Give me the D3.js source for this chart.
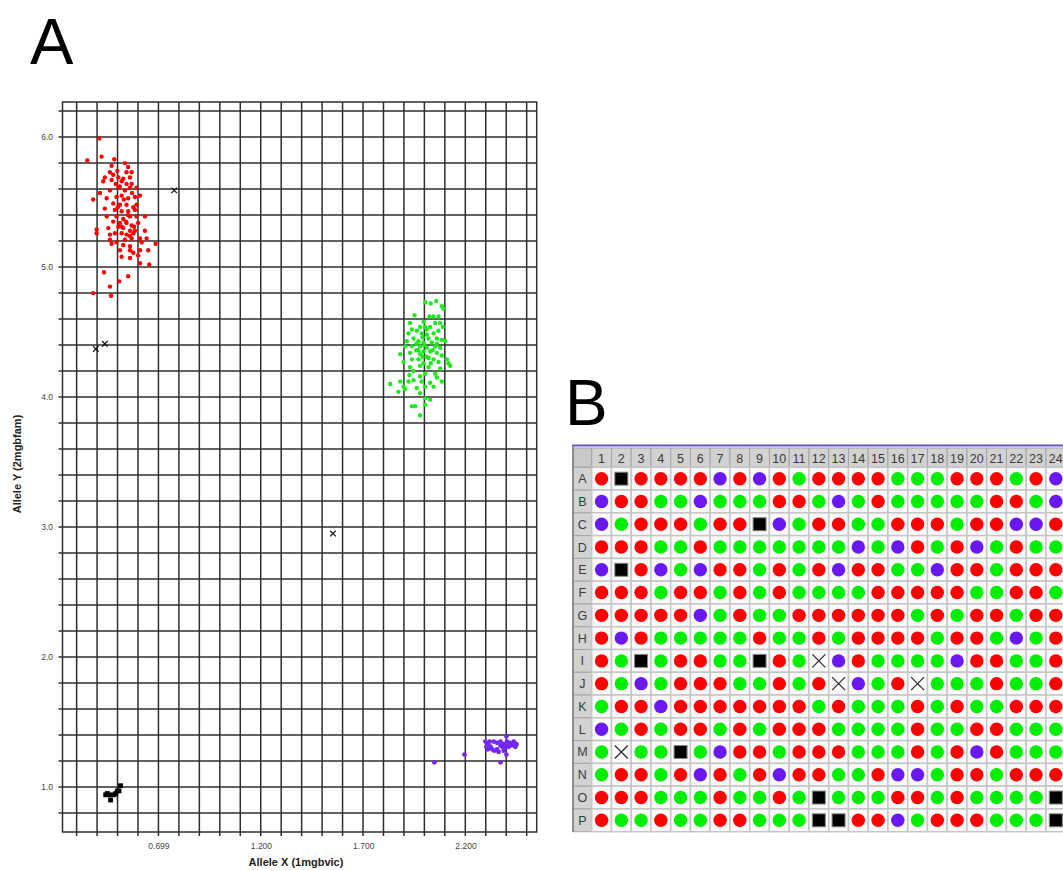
<!DOCTYPE html>
<html>
<head>
<meta charset="utf-8">
<script src="https://cdn.jsdelivr.net/npm/d3@7"></script>
<style>
body { margin: 0; background: #fff; }
svg { display: block; font-family: "Liberation Sans", Arial, sans-serif; }
</style>
</head>
<body>
<div id="chart"></div>
<script>
// Panel A: allele discrimination clusters, [allele X, allele Y]
const redPoints = [
    [0.410,5.99],[0.351,5.82],[0.421,5.85],[0.483,5.83],[0.535,5.80],
    [0.470,5.78],[0.551,5.77],[0.462,5.73],[0.498,5.74],[0.543,5.73],[0.568,5.73],
    [0.478,5.71],[0.437,5.69],[0.503,5.69],[0.527,5.68],[0.560,5.69],
    [0.429,5.66],[0.470,5.67],[0.519,5.66],[0.543,5.64],[0.568,5.64],[0.592,5.61],
    [0.413,5.57],[0.462,5.59],[0.503,5.61],[0.535,5.59],[0.560,5.61],
    [0.380,5.52],[0.446,5.53],[0.494,5.54],[0.519,5.55],[0.551,5.53],[0.584,5.54],[0.609,5.55],
    [0.478,5.49],[0.511,5.48],[0.543,5.48],[0.576,5.46],[0.592,5.48],
    [0.437,5.45],[0.486,5.44],[0.519,5.43],[0.551,5.43],[0.584,5.44],
    [0.446,5.39],[0.494,5.39],[0.527,5.37],[0.560,5.39],[0.592,5.39],[0.633,5.39],
    [0.478,5.35],[0.511,5.34],[0.543,5.34],[0.568,5.32],[0.600,5.34],
    [0.397,5.29],[0.454,5.30],[0.503,5.31],[0.527,5.30],[0.560,5.28],[0.584,5.28],
    [0.397,5.26],[0.462,5.25],[0.486,5.26],[0.519,5.26],[0.543,5.25],[0.576,5.26],[0.633,5.28],
    [0.462,5.21],[0.494,5.19],[0.535,5.21],[0.568,5.22],[0.609,5.22],[0.641,5.22],
    [0.470,5.18],[0.560,5.16],[0.527,5.17],[0.617,5.19],[0.685,5.18],
    [0.511,5.13],[0.560,5.13],[0.576,5.11],[0.609,5.13],[0.649,5.13],
    [0.519,5.08],[0.560,5.07],[0.600,5.09],[0.609,5.03],[0.654,5.02],
    [0.433,4.96],[0.551,4.93],[0.507,4.89],[0.462,4.85],[0.380,4.80],[0.467,4.78],
    [0.510,5.62],[0.530,5.52],[0.550,5.40],[0.520,5.31],[0.560,5.24],
    [0.500,5.46],[0.570,5.57],[0.540,5.35],[0.580,5.31],[0.490,5.64]
];
const greenPoints = [
    [2.003,4.73],[2.030,4.72],[2.057,4.74],[2.084,4.70],[2.092,4.68],
    [1.951,4.63],[2.024,4.62],[2.044,4.62],[2.068,4.62],
    [1.995,4.58],[1.929,4.57],[2.052,4.57],[2.076,4.57],
    [1.978,4.54],[2.003,4.54],[2.027,4.54],[2.089,4.54],
    [1.938,4.52],[1.962,4.51],[1.921,4.49],[2.044,4.49],[2.068,4.51],[1.986,4.49],[2.011,4.48],
    [1.946,4.45],[2.019,4.45],[2.060,4.45],[2.084,4.44],
    [1.913,4.43],[1.970,4.43],[1.995,4.42],[2.035,4.42],[2.101,4.43],
    [1.905,4.39],[1.938,4.39],[1.978,4.39],[2.011,4.38],[2.052,4.39],[2.076,4.38],
    [1.959,4.36],[1.995,4.35],[2.027,4.35],[2.060,4.34],
    [1.881,4.33],[1.929,4.34],[1.978,4.33],[2.011,4.31],[2.084,4.32],
    [1.938,4.29],[1.970,4.29],[2.044,4.29],[2.109,4.29],
    [1.897,4.27],[1.995,4.26],[2.068,4.27],[2.117,4.26],
    [2.125,4.24],[1.929,4.23],[1.978,4.24],[2.019,4.23],[2.076,4.22],
    [1.946,4.20],[2.003,4.18],[2.052,4.18],
    [1.926,4.17],[1.978,4.16],[2.060,4.15],
    [1.832,4.10],[1.881,4.12],[1.921,4.12],[1.946,4.13],[1.986,4.12],[2.027,4.11],[2.084,4.12],
    [1.897,4.08],[1.962,4.07],[2.003,4.08],[2.044,4.08],
    [1.872,4.04],[1.978,4.03],[1.905,4.06],
    [2.003,3.99],[2.027,3.98],
    [1.938,3.93],[1.954,3.93],[2.003,3.94],[1.978,3.86],
    [2.000,4.40],[2.020,4.30],[1.990,4.46],[2.040,4.36],[1.960,4.41],
    [2.060,4.41],[2.010,4.52],[1.970,4.36],[2.030,4.26],[1.990,4.31]
];
const purplePoints = [
    [2.048,1.19],[2.195,1.25],[2.371,1.19],[2.400,1.25],
    [2.297,1.35],[2.309,1.33],[2.322,1.31],[2.338,1.35],[2.354,1.34],[2.371,1.35],
    [2.387,1.33],[2.400,1.39],[2.403,1.35],[2.419,1.34],[2.436,1.35],[2.444,1.31],
    [2.428,1.32],[2.411,1.31],[2.379,1.31],[2.354,1.29],[2.330,1.29],[2.309,1.29],
    [2.362,1.27],[2.341,1.28],[2.387,1.28],[2.371,1.32],[2.302,1.31],[2.318,1.35],
    [2.395,1.31],[2.416,1.33],[2.449,1.33]
];
const blackPoints = [
    [0.441,0.94],[0.449,0.95],[0.460,0.94],[0.465,0.90],[0.490,0.95],
    [0.498,0.97],[0.514,1.01],[0.506,0.97],[0.482,0.94]
];
const undeterminedPoints = [[0.776,5.59],[0.393,4.37],[0.437,4.41],[1.552,2.95]];

const xTickValues = [0.699, 1.2, 1.7, 2.2];
const xTickLabels = ["0.699", "1.200", "1.700", "2.200"];
const yTickValues = [1, 2, 3, 4, 5, 6];
const yTickLabels = ["1.0", "2.0", "3.0", "4.0", "5.0", "6.0"];

// Panel B: 384-well plate calls (R red, G green, P purple, B no amp, X undetermined)
const plateRows = ["A","B","C","D","E","F","G","H","I","J","K","L","M","N","O","P"];
const plateCols = [1,2,3,4,5,6,7,8,9,10,11,12,13,14,15,16,17,18,19,20,21,22,23,24];
const plateCalls = [
    "RBRRRRPRPRGRRRRGGGRRRGRP",
    "PRRGGPGGGRRGPGRGGGGGRRGP",
    "PGRRRGRRBPGRRGGRRRGRRPPR",
    "RRRGGRGGGGGGGPGPRGRPGRGG",
    "PBRPGPRRGRGRPRRGGPRRGRRR",
    "RRRGRRGRGRGGGGRRRRRGGRRG",
    "RRRRRPGRGGRRRRRRGRGRRGRR",
    "RPRGGGGGRGGRGRRRRGRRGPGR",
    "RGBGRRGGBRGXPRGGGGPRRGGR",
    "RGPGRRRGGRGRXPGRXGGGRGGR",
    "GRRPRRRRRRRGRGGGRGRGGRRR",
    "PGRGRRGRGRRRGGGGRGGRRGGG",
    "GXGGBGPRRGRRRGGGRGRPRGGG",
    "GRRGRPRGRPRRGGRPPGRRGRRR",
    "RRRGGGRGGRGBGGGRRGRGGGGB",
    "RGGRGGRRGGGBBRRPGRRRGGGB"
];

const callColors = { R: "#ff0000", G: "#00ee00", P: "#6a18f2" };

const svg = d3.select("#chart").append("svg")
    .attr("width", 1063)
    .attr("height", 870);

// ---------- panel A ----------
const plot = { left: 62.5, right: 536.7, top: 102, bottom: 832 };
const x = d3.scaleLinear().domain([0.23, 2.548]).range([plot.left, plot.right]);
const y = d3.scaleLinear().domain([0.654, 6.27]).range([plot.bottom, plot.top]);

const gA = svg.append("g");
const gridColor = "#2e2e2e";

const xGrid = d3.range(23).map(i => 0.299 + i * 0.1);
const yGrid = d3.range(28).map(i => 0.8 + i * 0.2);

gA.append("g").selectAll("line")
    .data(xGrid)
    .join("line")
    .attr("x1", d => x(d)).attr("x2", d => x(d))
    .attr("y1", plot.top).attr("y2", plot.bottom + 4)
    .attr("stroke", gridColor).attr("stroke-width", 1.5);

gA.append("g").selectAll("line")
    .data(yGrid)
    .join("line")
    .attr("x1", plot.left - 4).attr("x2", plot.right)
    .attr("y1", d => y(d)).attr("y2", d => y(d))
    .attr("stroke", gridColor).attr("stroke-width", 1.5);

gA.append("rect")
    .attr("x", plot.left).attr("y", plot.top)
    .attr("width", plot.right - plot.left).attr("height", plot.bottom - plot.top)
    .attr("fill", "none").attr("stroke", gridColor).attr("stroke-width", 1.5);

const xAxis = gA.append("g")
    .attr("transform", `translate(0,${plot.bottom})`)
    .call(d3.axisBottom(x).tickValues(xTickValues).tickFormat((d, i) => xTickLabels[i]).tickSize(0).tickPadding(11));
const yAxis = gA.append("g")
    .attr("transform", `translate(${plot.left},0)`)
    .call(d3.axisLeft(y).tickValues(yTickValues).tickFormat((d, i) => yTickLabels[i]).tickSize(0).tickPadding(9.5));
[xAxis, yAxis].forEach(a => {
    a.select(".domain").remove();
    a.selectAll("text")
        .attr("fill", "#444")
        .style("font-size", "8.5px")
        .style("font-family", "'Liberation Sans', Arial, sans-serif");
});

gA.append("text")
    .attr("x", 296).attr("y", 866)
    .attr("text-anchor", "middle")
    .style("font-size", "11px").style("font-weight", "bold")
    .attr("fill", "#222")
    .text("Allele X (1mgbvic)");

gA.append("text")
    .attr("transform", "translate(20.5,464) rotate(-90)")
    .attr("text-anchor", "middle")
    .style("font-size", "11px").style("font-weight", "bold")
    .attr("fill", "#222")
    .text("Allele Y (2mgbfam)");

const drawDots = (points, color, r) => {
    gA.append("g").selectAll("circle")
        .data(points)
        .join("circle")
        .attr("cx", d => x(d[0]))
        .attr("cy", d => y(d[1]))
        .attr("r", r)
        .attr("fill", color);
};
drawDots(redPoints, "#ff0000", 2.2);
drawDots(greenPoints, "#1ee81e", 2.2);
drawDots(purplePoints, "#7228f0", 2.4);

gA.append("g").selectAll("rect")
    .data(blackPoints)
    .join("rect")
    .attr("x", d => x(d[0]) - 2.4)
    .attr("y", d => y(d[1]) - 2.4)
    .attr("width", 4.8).attr("height", 4.8)
    .attr("fill", "#000");

const crossG = gA.append("g").attr("stroke", "#111").attr("stroke-width", 1.2);
undeterminedPoints.forEach(d => {
    const cx = x(d[0]), cy = y(d[1]), s = 2.8;
    crossG.append("line").attr("x1", cx - s).attr("y1", cy - s).attr("x2", cx + s).attr("y2", cy + s);
    crossG.append("line").attr("x1", cx - s).attr("y1", cy + s).attr("x2", cx + s).attr("y2", cy - s);
});

svg.append("text")
    .attr("x", 30).attr("y", 64)
    .style("font-size", "65px")
    .attr("fill", "#000")
    .text("A");

// ---------- panel B ----------
const gB = svg.append("g");
const table = { left: 573, headerTop: 448, top: 467.3, bottom: 831.7, colStart: 591.7, colWidth: 19.75 };
const col = d3.scaleBand().domain(plateCols).range([table.colStart, table.colStart + plateCols.length * table.colWidth]);
const row = d3.scaleBand().domain(plateRows).range([table.top, table.bottom]);

gB.append("line")
    .attr("x1", 572).attr("x2", 1063)
    .attr("y1", 445.5).attr("y2", 445.5)
    .attr("stroke", "#6c52c4").attr("stroke-width", 2.2);

// corner + header cells
gB.append("rect")
    .attr("x", table.left).attr("y", table.headerTop)
    .attr("width", table.colStart - table.left).attr("height", table.top - table.headerTop)
    .attr("fill", "#c9c9c9").attr("stroke", "#a4a4a4");

gB.append("g").selectAll("rect")
    .data(plateCols)
    .join("rect")
    .attr("x", d => col(d)).attr("y", table.headerTop)
    .attr("width", col.bandwidth()).attr("height", table.top - table.headerTop)
    .attr("fill", "#d2d2d2").attr("stroke", "#a4a4a4");

gB.append("g").selectAll("text")
    .data(plateCols)
    .join("text")
    .attr("x", d => col(d) + col.bandwidth() / 2)
    .attr("y", table.headerTop + 14.5)
    .attr("text-anchor", "middle")
    .style("font-size", "12.5px")
    .attr("fill", "#3a3a3a")
    .text(d => d);

gB.append("g").selectAll("rect")
    .data(plateRows)
    .join("rect")
    .attr("x", table.left).attr("y", d => row(d))
    .attr("width", table.colStart - table.left).attr("height", row.bandwidth())
    .attr("fill", "#d2d2d2").attr("stroke", "#a4a4a4");

gB.append("g").selectAll("text")
    .data(plateRows)
    .join("text")
    .attr("x", table.left + (table.colStart - table.left) / 2)
    .attr("y", d => row(d) + row.bandwidth() / 2 + 4.5)
    .attr("text-anchor", "middle")
    .style("font-size", "12.5px")
    .attr("fill", "#3a3a3a")
    .text(d => d);

// wells
const wells = [];
plateRows.forEach((r, i) => {
    plateCols.forEach((c, j) => {
        wells.push({ row: r, col: c, call: plateCalls[i][j] });
    });
});

const wellG = gB.append("g").selectAll("g")
    .data(wells)
    .join("g")
    .attr("transform", d => `translate(${col(d.col)},${row(d.row)})`);

wellG.append("rect")
    .attr("width", col.bandwidth()).attr("height", row.bandwidth())
    .attr("fill", "#fafafa").attr("stroke", "#c6c6c6").attr("stroke-width", 1.5);

const cw = col.bandwidth() / 2, ch = row.bandwidth() / 2;

wellG.filter(d => callColors[d.call])
    .append("circle")
    .attr("cx", cw).attr("cy", ch).attr("r", 6.7)
    .attr("fill", d => callColors[d.call]);

wellG.filter(d => d.call === "B")
    .append("rect")
    .attr("x", cw - 6.5).attr("y", ch - 6.5)
    .attr("width", 13).attr("height", 13)
    .attr("fill", "#000").attr("stroke", "#888").attr("stroke-width", 1);

const xWells = wellG.filter(d => d.call === "X");
[[-1, -1, 1, 1], [-1, 1, 1, -1]].forEach(s => {
    xWells.append("line")
        .attr("x1", cw + s[0] * 6.5).attr("y1", ch + s[1] * 6.5)
        .attr("x2", cw + s[2] * 6.5).attr("y2", ch + s[3] * 6.5)
        .attr("stroke", "#2a2a2a").attr("stroke-width", 1.2);
});

gB.append("line")
    .attr("x1", table.left).attr("x2", table.left)
    .attr("y1", 446).attr("y2", table.bottom)
    .attr("stroke", "#7a7a7a").attr("stroke-width", 1.5);

svg.append("text")
    .attr("x", 565).attr("y", 425)
    .style("font-size", "64px")
    .attr("fill", "#000")
    .text("B");
</script>
</body>
</html>
